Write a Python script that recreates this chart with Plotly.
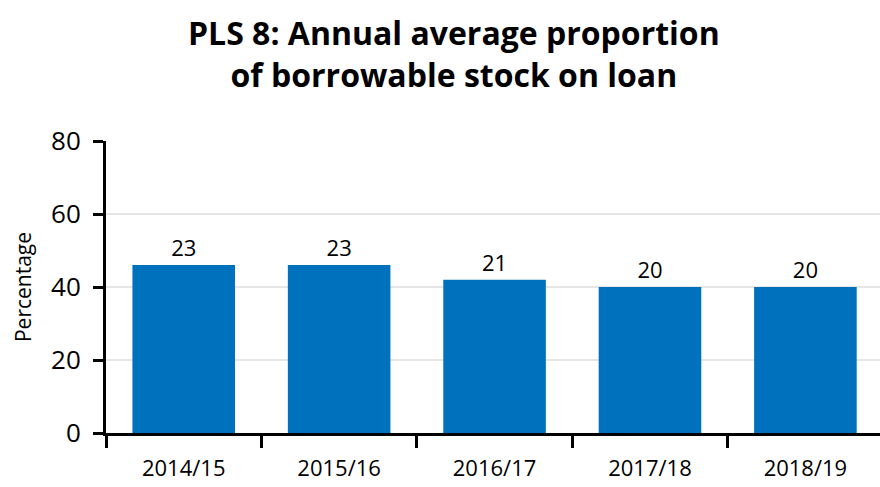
import plotly.graph_objects as go

categories = ["2014/15", "2015/16", "2016/17", "2017/18", "2018/19"]
bar_values = [46, 46, 42, 40, 40]
bar_labels = ["23", "23", "21", "20", "20"]
y_ticks = [0, 20, 40, 60, 80]

FONT = "Open Sans"

fig = go.Figure()
fig.add_trace(go.Bar(
    x=categories,
    y=bar_values,
    text=bar_labels,
    textposition="outside",
    textfont=dict(size=22, color="black", family=FONT),
    marker=dict(color="#0071bc", line=dict(width=0)),
    cliponaxis=False,
    hoverinfo="skip",
))

fig.update_layout(
    width=880, height=487,
    margin=dict(l=106, r=0, t=141, b=54, autoexpand=False),
    paper_bgcolor="white", plot_bgcolor="white",
    bargap=0.34,
    showlegend=False,
    font=dict(family=FONT, color="black"),
)

fig.add_annotation(
    text="<b>PLS 8: Annual average proportion<br>of borrowable stock on loan</b>",
    xref="paper", yref="paper", x=0.45, y=1.301,
    xanchor="center", yanchor="middle",
    showarrow=False, align="center",
    font=dict(size=32, family=FONT, color="black"),
)

fig.update_xaxes(
    type="category",
    range=[-0.5, 4.48],
    tickson="boundaries",
    ticks="outside", ticklen=12, tickwidth=3, tickcolor="black",
    showline=True, linecolor="black", linewidth=3,
    showgrid=False,
    automargin=False,
    tickfont=dict(size=22, family=FONT, color="black"),
    ticklabelstandoff=14,
)

fig.update_yaxes(
    range=[0, 80],
    tickvals=y_ticks,
    ticks="outside", ticklen=10, tickwidth=3, tickcolor="black",
    showline=True, linecolor="black", linewidth=3,
    showgrid=True, gridcolor="#e6e6e6", gridwidth=2,
    zeroline=False,
    automargin=False,
    tickfont=dict(size=26, family=FONT, color="black"),
    ticklabelstandoff=7,
    title=dict(text="Percentage", font=dict(size=21, family=FONT, color="black"), standoff=14),
)

fig.write_html("out.html", config={"displayModeBar": False},
               post_script="document.body.style.margin='0px';")
